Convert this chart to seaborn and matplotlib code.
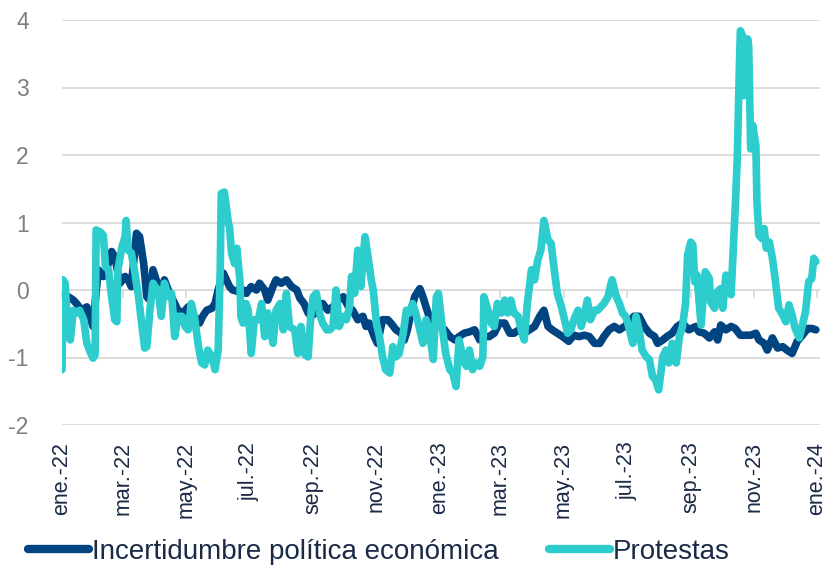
import pandas as pd
import matplotlib
matplotlib.use("Agg")
import matplotlib.pyplot as plt
from matplotlib.lines import Line2D
import seaborn as sns

sns.set_theme(style="white")
plt.rcParams["font.family"] = ["Liberation Sans", "DejaVu Sans"]

# ---- data: daily index values, given as day offsets from the start date ----
inicio = pd.Timestamp("2022-01-01")

dias_incert = [
    0, 3, 6, 11, 14, 19, 24, 27, 30, 35, 40, 43, 48, 51, 56, 61, 64, 67, 72, 75,
    79, 82, 85, 88, 91, 96, 99, 104, 109, 112, 117, 122, 125, 128, 133, 136, 140,
    145, 148, 151, 156, 159, 162, 165, 170, 175, 178, 183, 188, 191, 196, 199,
    204, 207, 212, 217, 222, 227, 230, 234, 238, 241, 248, 252, 257, 262, 267,
    272, 277, 281, 286, 291, 294, 297, 302, 305, 310, 315, 318, 323, 328, 331,
    334, 338, 341, 346, 349, 352, 355, 359, 362, 370, 375, 380, 384, 389, 394,
    399, 404, 408, 413, 418, 423, 428, 433, 437, 442, 447, 452, 457, 462, 466,
    470, 474, 479, 484, 490, 495, 500, 505, 510, 515, 520, 524, 529, 534, 539,
    544, 548, 553, 558, 563, 568, 573, 576, 581, 585, 590, 595, 600, 606, 613,
    616, 621, 626, 631, 634, 637, 642, 647, 651, 656, 661, 666, 671, 674, 679,
    682, 687, 692, 697, 701, 706, 711, 716, 721, 725, 729,
]
incert = [
    0.00, -0.15, -0.10, -0.15, -0.20, -0.30, -0.25, -0.39, -0.54, 0.30, 0.20,
    0.30, 0.57, 0.49, 0.10, 0.20, 0.15, 0.05, 0.84, 0.79, 0.39, -0.10, -0.15,
    0.30, 0.15, -0.10, 0.15, -0.05, -0.20, -0.30, -0.34, -0.25, -0.36, -0.39,
    -0.49, -0.39, -0.30, -0.27, -0.20, 0.00, 0.25, 0.15, 0.05, 0.00, -0.02,
    0.00, -0.05, 0.05, 0.00, 0.10, 0.00, -0.15, 0.05, 0.15, 0.10, 0.15, 0.05,
    0.00, -0.12, -0.20, -0.34, -0.39, -0.30, -0.20, -0.30, -0.25, -0.15, -0.10,
    -0.25, -0.30, -0.44, -0.39, -0.54, -0.49, -0.69, -0.79, -0.44, -0.44, -0.49,
    -0.59, -0.64, -0.74, -0.59, -0.30, -0.10, 0.02, -0.10, -0.25, -0.39, -0.54,
    -0.49, -0.59, -0.69, -0.74, -0.69, -0.64, -0.62, -0.59, -0.74, -0.69, -0.69,
    -0.64, -0.49, -0.49, -0.64, -0.64, -0.59, -0.64, -0.59, -0.54, -0.39, -0.30,
    -0.54, -0.59, -0.64, -0.69, -0.76, -0.67, -0.69, -0.67, -0.69, -0.79, -0.79,
    -0.69, -0.59, -0.54, -0.59, -0.54, -0.49, -0.39, -0.39, -0.54, -0.64, -0.69,
    -0.79, -0.74, -0.69, -0.64, -0.54, -0.49, -0.59, -0.54, -0.62, -0.64, -0.71,
    -0.62, -0.74, -0.52, -0.59, -0.54, -0.57, -0.67, -0.67, -0.67, -0.64, -0.74,
    -0.79, -0.89, -0.71, -0.86, -0.84, -0.89, -0.94, -0.76, -0.67, -0.57, -0.57,
    -0.59,
]

dias_prot = [
    0, 1, 3, 6, 8, 11, 14, 17, 21, 24, 27, 30, 32, 33, 37, 40, 42, 45, 48, 51,
    53, 54, 58, 61, 62, 64, 67, 70, 74, 77, 80, 82, 85, 88, 90, 93, 96, 99, 103,
    106, 109, 112, 116, 119, 122, 125, 128, 132, 135, 138, 141, 145, 148, 151,
    153, 154, 157, 161, 162, 164, 167, 169, 172, 173, 175, 178, 180, 183, 186,
    190, 193, 196, 199, 204, 207, 211, 214, 217, 220, 225, 228, 231, 235, 238,
    241, 243, 246, 249, 252, 256, 259, 262, 265, 268, 272, 275, 278, 280, 283,
    286, 289, 293, 296, 299, 301, 304, 307, 310, 313, 317, 320, 323, 326, 330,
    333, 336, 339, 342, 346, 349, 352, 355, 359, 362, 364, 368, 371, 375, 378,
    381, 384, 388, 391, 394, 397, 400, 404, 407, 408, 412, 415, 418, 421, 425,
    428, 431, 434, 437, 441, 444, 447, 450, 454, 457, 460, 463, 466, 470, 473,
    476, 479, 483, 489, 492, 495, 499, 502, 505, 508, 511, 515, 518, 521, 524,
    528, 531, 532, 536, 539, 542, 545, 548, 552, 555, 558, 561, 565, 568, 571,
    574, 577, 581, 584, 587, 590, 594, 597, 600, 603, 605, 608, 610, 612, 614,
    618, 620, 622, 626, 627, 631, 634, 637, 639, 642, 644, 647, 649, 651, 653,
    655, 656, 658, 659, 661, 663, 664, 666, 668, 671, 672, 674, 677, 679, 681,
    684, 687, 690, 693, 697, 700, 703, 706, 709, 713, 716, 719, 722, 725, 727,
    729,
]
protestas = [
    -1.18, 0.15, 0.10, -0.69, -0.74, -0.30, -0.34, -0.30, -0.44, -0.79, -0.91,
    -1.01, -0.96, 0.89, 0.86, 0.81, 0.34, 0.30, -0.10, -0.44, -0.47, 0.30, 0.64,
    0.79, 1.03, 0.59, 0.55, 0.30, -0.10, -0.49, -0.86, -0.84, -0.30, 0.10, 0.05,
    0.00, -0.39, 0.10, -0.10, -0.05, -0.69, -0.39, -0.39, -0.54, -0.59, -0.20,
    -0.39, -0.84, -1.08, -1.11, -0.89, -0.99, -1.18, -0.89, 0.30, 1.43, 1.45,
    0.98, 0.94, 0.54, 0.39, 0.62, 0.15, -0.39, -0.49, -0.20, -0.30, -0.94, -0.44,
    -0.44, -0.20, -0.69, -0.34, -0.79, -0.30, -0.20, -0.59, -0.05, -0.54, -0.59,
    -0.94, -0.54, -0.96, -0.99, -0.30, -0.10, -0.05, -0.34, -0.49, -0.59, -0.59,
    -0.54, 0.00, -0.54, -0.39, -0.44, -0.25, 0.20, -0.05, 0.59, 0.05, 0.79, 0.49,
    0.15, 0.00, -0.49, -0.69, -0.99, -1.18, -1.23, -0.84, -0.99, -0.94, -0.64,
    -0.30, -0.34, -0.20, -0.34, -0.59, -0.79, -0.44, -0.59, -1.03, -0.10, -0.05,
    -0.59, -0.94, -1.18, -1.23, -1.43, -0.74, -1.03, -1.13, -0.89, -1.18, -1.08,
    -1.13, -0.99, -0.10, -0.30, -0.49, -0.54, -0.20, -0.34, -0.15, -0.34, -0.15,
    -0.34, -0.39, -0.59, -0.74, -0.20, 0.30, 0.15, 0.44, 0.59, 1.03, 0.74, 0.69,
    0.30, -0.05, -0.25, -0.64, -0.59, -0.44, -0.30, -0.54, -0.39, -0.15, -0.44,
    -0.30, -0.30, -0.25, -0.20, -0.10, 0.10, 0.15, -0.10, -0.20, -0.34, -0.39,
    -0.54, -0.79, -0.39, -0.59, -0.89, -0.99, -1.03, -1.28, -1.33, -1.48, -0.99,
    -0.89, -1.08, -0.79, -1.08, -0.69, -0.54, -0.20, 0.52, 0.71, 0.67, 0.12,
    0.22, -0.52, -0.12, 0.27, 0.17, -0.17, -0.27, -0.02, 0.02, -0.27, 0.22, 0.17,
    -0.07, 0.57, 1.21, 1.95, 3.28, 3.84, 3.77, 2.88, 3.33, 3.72, 3.62, 2.09,
    2.44, 2.14, 1.31, 0.81, 0.76, 0.91, 0.62, 0.71, 0.47, 0.12, -0.27, -0.37,
    -0.47, -0.22, -0.37, -0.57, -0.71, -0.52, -0.32, 0.12, 0.17, 0.47, 0.42,
]

series = ["Incertidumbre política económica", "Protestas"]
colores = ["#004481", "#2DCCCD"]
etiquetas_x = [
    "ene.-22", "mar.-22", "may.-22", "jul.-22", "sep.-22", "nov.-22",
    "ene.-23", "mar.-23", "may.-23", "jul.-23", "sep.-23", "nov.-23", "ene.-24",
]
valores_y = [-2, -1, 0, 1, 2, 3, 4]

df_incert = pd.DataFrame({
    "fecha": inicio + pd.to_timedelta(dias_incert, unit="D"),
    "valor": incert,
})
df_prot = pd.DataFrame({
    "fecha": inicio + pd.to_timedelta(dias_prot, unit="D"),
    "valor": protestas,
})

# ---- figure ----
W, H = 825, 568
fig = plt.figure(figsize=(W / 100, H / 100), dpi=100)
ax = fig.add_axes([62 / W, 1 - 425 / H, (820 - 62) / W, (425 - 20) / H])

for df, color in zip([df_incert, df_prot], colores):
    sns.lineplot(data=df, x="fecha", y="valor", color=color, linewidth=5.5,
                 solid_capstyle="round", solid_joinstyle="round",
                 legend=False, ax=ax, zorder=3)

# axes ranges
ax.set_ylim(-2, 4)
ax.set_xlim(inicio, inicio + pd.Timedelta(days=733))

# y axis: grey labels + light grid
ax.set_yticks(valores_y)
ax.set_yticklabels([str(v) for v in valores_y])
ax.tick_params(axis="y", length=0, pad=24, labelsize=16.5, labelcolor="#7F7F7F")
ax.yaxis.grid(True, color="#D9D9D9", linewidth=1.3)
ax.xaxis.grid(False)
ax.set_axisbelow(True)
for s in ax.spines.values():
    s.set_visible(False)

# x axis: bimonthly labels, rotated
posiciones_x = pd.date_range("2022-01-01", "2024-01-01", freq="2MS")
ax.set_xticks(posiciones_x)
ax.set_xticklabels(etiquetas_x, rotation=90, va="top", ha="center")
ax.tick_params(axis="x", length=0, pad=12, labelsize=15.5, labelcolor="#1B2A47")
ax.set_xlabel("")
ax.set_ylabel("")

# small tick marks on the zero line
eje_cero = ax.secondary_xaxis(2 / 6)
eje_cero.set_xticks(posiciones_x)
eje_cero.tick_params(axis="x", direction="out", length=6, width=1.2,
                     color="#D9D9D9", labelbottom=False, labeltop=False)
for s in eje_cero.spines.values():
    s.set_visible(False)

# legend below the chart
handles = [Line2D([0], [0], color=c, linewidth=6, solid_capstyle="round")
           for c in colores]
fig.legend(handles, series, loc="center left",
           bbox_to_anchor=(28 / W, 1 - 552 / H), ncol=2, frameon=False,
           fontsize=20, handlelength=2.2, handletextpad=0.1,
           columnspacing=1.8, borderpad=0, borderaxespad=0,
           labelcolor="#1B2A47")

fig.savefig("out.png", dpi=100)
